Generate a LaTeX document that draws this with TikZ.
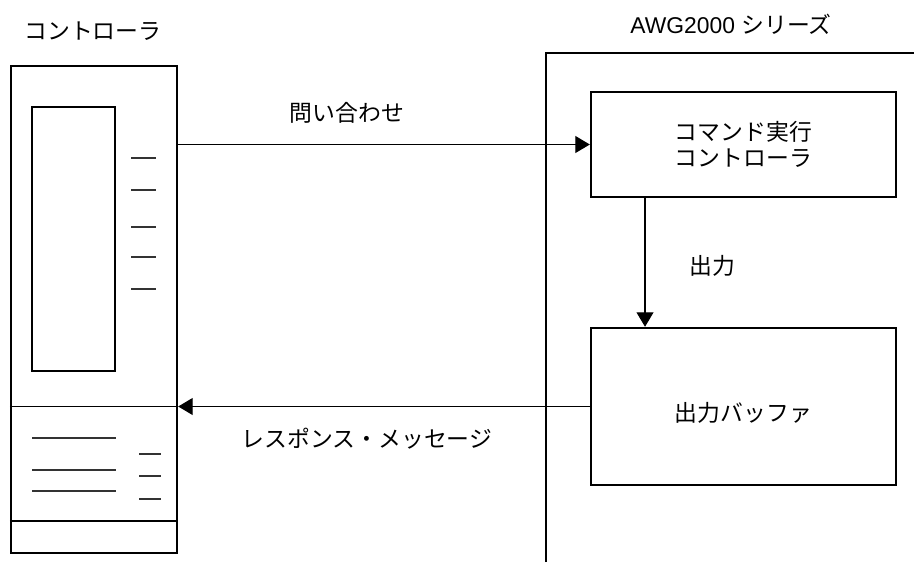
\documentclass[tikz,border=0pt]{standalone}
\usepackage{fontspec}
\setmainfont{Liberation Sans}
\newfontfamily\jp{Noto Sans CJK JP}
\usetikzlibrary{positioning,arrows.meta}

\begin{document}
\begin{tikzpicture}[x=0.02cm,y=-0.02cm,
	waku/.style={draw,line width=1.4pt},
	hako/.style={waku,minimum width=6.1cm,align=center,font=\jp\fontsize{13pt}{15pt}\selectfont},
	moji/.style={font=\jp\fontsize{13pt}{15pt}\selectfont,inner sep=0pt},
	ya/.style={-{Triangle[length=0.29cm,width=0.34cm]},line width=0.6pt},
	sen/.style={line width=0.6pt,black!80}]
	\useasboundingbox (0,0) rectangle (914,562);
	
	% 左：コントローラ本体
	\node[waku,minimum width=3.32cm,minimum height=9.74cm] (ctrl) at (94,309.5) {};
	\node[moji] (ctrltitle) at (93,31) {コントローラ};
	\draw[line width=0.8pt] (32,107) rectangle (115,371);
	\foreach \y in {158,190,227,257,289} \draw[sen] (131,\y) -- (156,\y);
	\foreach \y in {438,470,491} \draw[sen] (32,\y) -- (116,\y);
	\foreach \y in {454,476,499} \draw[sen] (139,\y) -- (161,\y);
	\draw[line width=0.8pt] (ctrl.west |- 0,521) -- (ctrl.east |- 0,521);
	
	% 右：AWG2000 シリーズ
	\draw[waku] (546,562) -- (546,53) -- (914,53);
	\node[moji,font=\fontsize{13pt}{15pt}\selectfont] (awg) at (731,24) {AWG2000 {\jp シリーズ}};
	\node[hako,minimum height=2.1cm] (cmd) at (743.5,144.5) {コマンド実行\\コントローラ};
	\node[hako,minimum height=3.14cm] (buf) at (743.5,406.5) {};
	\node[moji] (buftext) at ([yshift=-0.12cm]buf.center) {出力バッファ};
	
	% 矢印とラベル
	\draw[ya] (ctrl.east |- cmd) -- (cmd.west);
	\node[moji] (toi) at (347,113) {問い合わせ};
	\draw[ya] ([xshift=-1.97cm]cmd.south) -- ([xshift=-1.97cm]buf.north);
	\node[moji] (out) at (712,266) {出力};
	\draw[line width=0.8pt] (ctrl.west |- buf) -- (ctrl.east |- buf);
	\draw[ya] (buf.west) -- (ctrl.east |- buf);
	\node[moji] (resp) at (367,439) {レスポンス・メッセージ};
\end{tikzpicture}
\end{document}
